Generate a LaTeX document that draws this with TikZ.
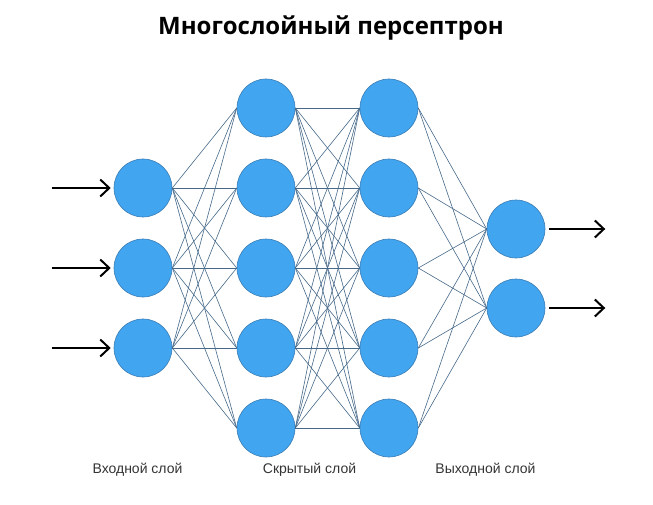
\documentclass[tikz,border=0pt]{standalone}
\usepackage{fontspec}
\setmainfont{Liberation Sans}
\newfontfamily\titlefont{Open Sans}
\usetikzlibrary{arrows.meta,positioning}
\definecolor{neuron}{HTML}{42A5F0}
\definecolor{rim}{HTML}{3A7DB5}
\definecolor{wire}{HTML}{46698A}

\begin{document}
\begin{tikzpicture}[x=1pt,y=-1pt,
  unit/.style={circle,draw=rim,line width=0.6pt,fill=neuron,minimum size=58pt,inner sep=0pt},
  link/.style={draw=wire,line width=0.6pt},
  sig/.style={-{Straight Barb[length=9pt,width=17pt,line width=2pt]},line width=2.4pt},
  layername/.style={font=\fontsize{14}{16}\selectfont,text=black!80}]
\useasboundingbox (0,0) rectangle (653,505);
\node[font=\titlefont\bfseries\fontsize{24}{29}\selectfont] (title) at (331,28) {Многослойный персептрон};
% layers
\foreach \n/\y in {1/188,2/268,3/348} \node[unit] (i\n) at (143,\y) {};
\foreach \n/\y in {1/108,2/188,3/268,4/348,5/428} {
  \node[unit] (h\n) at (266,\y) {};
  \node[unit] (g\n) at (389,\y) {};
}
\foreach \n/\y in {1/229,2/308} \node[unit] (o\n) at (516,\y) {};
% weights
\foreach \a in {1,2,3} \foreach \b in {1,...,5} \draw[link] (i\a.east) -- (h\b.west);
\foreach \a in {1,...,5} \foreach \b in {1,...,5} \draw[link] (h\a.east) -- (g\b.west);
\foreach \a in {1,...,5} \foreach \b in {1,2} \draw[link] (g\a.east) -- (o\b.west);
% inputs and outputs
\foreach \n in {1,2,3} {
  \coordinate[left=62pt of i\n.west] (in\n);
  \draw[sig] (in\n) -- ([xshift=-3pt]i\n.west);
}
\foreach \n in {1,2} {
  \coordinate[right=60pt of o\n.east] (out\n);
  \draw[sig] ([xshift=4pt]o\n.east) -- (out\n);
}
\node[layername] (lin) at (137.5,470) {Входной слой};
\node[layername] (lhid) at (309.5,470) {Скрытый слой};
\node[layername] (lout) at (485.5,470) {Выходной слой};
\end{tikzpicture}
\end{document}
